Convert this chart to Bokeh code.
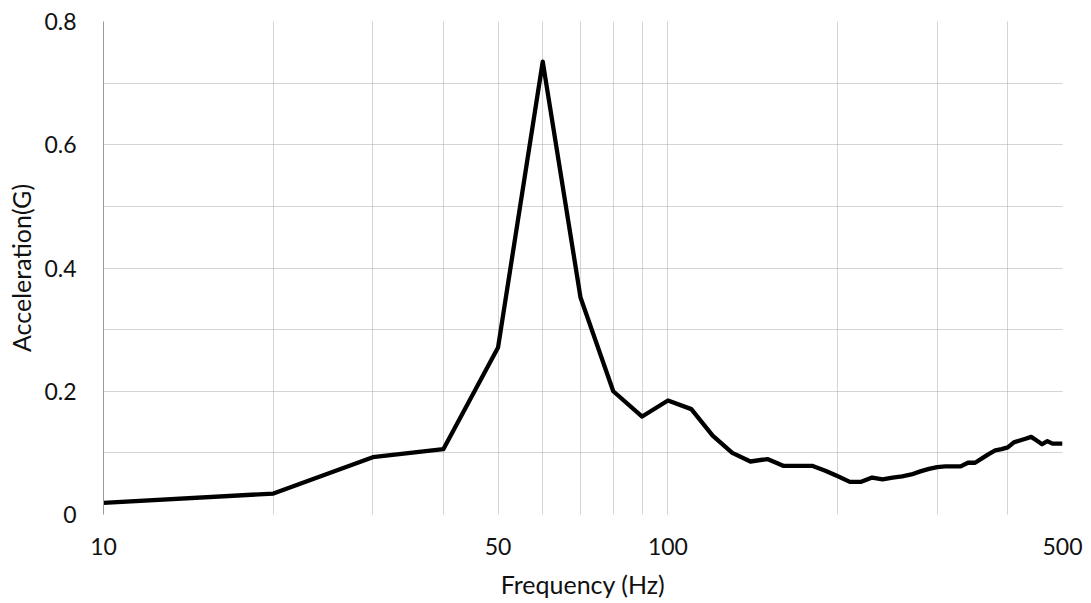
from bokeh.plotting import figure
from bokeh.models import Range1d, FixedTicker
from bokeh.embed import file_html
from bokeh.resources import INLINE

# Data
freq_hz = [10, 20, 30, 40, 50, 60, 70, 80, 90, 100,
           110, 120, 130, 140, 150, 160, 170, 180, 190, 200,
           210, 220, 230, 240, 250, 260, 270, 280, 290, 300,
           310, 320, 330, 340, 350, 360, 370, 380, 390, 400,
           410, 420, 430, 440, 450, 460, 470, 480, 490, 500]
accel_g = [0.019, 0.034, 0.093, 0.106, 0.271, 0.735, 0.352, 0.200, 0.159, 0.185,
           0.171, 0.128, 0.100, 0.086, 0.090, 0.079, 0.079, 0.079, 0.071, 0.062,
           0.053, 0.053, 0.060, 0.057, 0.060, 0.062, 0.065, 0.070, 0.074, 0.077,
           0.078, 0.078, 0.078, 0.084, 0.084, 0.091, 0.098, 0.104, 0.106, 0.109,
           0.117, 0.120, 0.123, 0.126, 0.120, 0.114, 0.119, 0.115, 0.115, 0.115]

x_tick_values = [10, 50, 100, 500]
x_tick_labels = ["10", "50", "100", "500"]
x_grid_values = [10, 20, 30, 40, 50, 60, 70, 80, 90, 100, 200, 300, 400, 500]
y_tick_values = [0, 0.2, 0.4, 0.6, 0.8]
y_tick_labels = ["0", "0.2", "0.4", "0.6", "0.8"]
y_grid_values = [0, 0.1, 0.2, 0.3, 0.4, 0.5, 0.6, 0.7, 0.8]

FONT = "Lato"
TEXT = "#111111"
GRID = "#a8a8a8"

p = figure(width=1087, height=603, x_axis_type="log",
           x_range=Range1d(10, 500), y_range=Range1d(0, 0.8),
           output_backend="svg", toolbar_location=None,
           min_border_left=103, min_border_right=25,
           min_border_top=21, min_border_bottom=89)
p.outline_line_color = None

p.line(freq_hz, accel_g, line_color="black", line_width=4.3, line_join="round")

# grids
p.xgrid.ticker = FixedTicker(ticks=x_grid_values)
p.ygrid.ticker = FixedTicker(ticks=y_grid_values)
for g in (p.xgrid, p.ygrid):
    g.grid_line_color = GRID
    g.grid_line_dash = "1 1"
    g.grid_line_width = 1
p.xgrid.level = "underlay"
p.ygrid.level = "underlay"

# x axis
xa = p.xaxis[0]
xa.ticker = FixedTicker(ticks=x_tick_values)
xa.major_label_overrides = {v: l for v, l in zip(x_tick_values, x_tick_labels)}
xa.axis_line_color = None
xa.major_tick_line_color = None
xa.minor_tick_line_color = None
xa.major_tick_out = 0
xa.major_tick_in = 0
xa.minor_tick_out = 0
xa.major_label_standoff = 23
xa.major_label_text_font = FONT
xa.major_label_text_font_size = "23px"
xa.major_label_text_color = TEXT
xa.axis_label = "Frequency (Hz)"
xa.axis_label_text_font = FONT
xa.axis_label_text_font_size = "25px"
xa.axis_label_text_font_style = "normal"
xa.axis_label_text_color = TEXT
xa.axis_label_standoff = 11

# y axis
ya = p.yaxis[0]
ya.ticker = FixedTicker(ticks=y_tick_values)
ya.major_label_overrides = {v: l for v, l in zip(y_tick_values, y_tick_labels)}
ya.axis_line_color = "#9a9a9a"
ya.major_tick_line_color = None
ya.minor_tick_line_color = None
ya.major_tick_out = 0
ya.major_tick_in = 0
ya.minor_tick_out = 0
ya.major_label_standoff = 27
ya.major_label_text_font = FONT
ya.major_label_text_font_size = "23px"
ya.major_label_text_color = TEXT
ya.axis_label = "Acceleration(G)"
ya.axis_label_text_font = FONT
ya.axis_label_text_font_size = "25px"
ya.axis_label_text_font_style = "normal"
ya.axis_label_text_color = TEXT
ya.axis_label_standoff = 5

open("out.html", "w").write(file_html(p, INLINE))
